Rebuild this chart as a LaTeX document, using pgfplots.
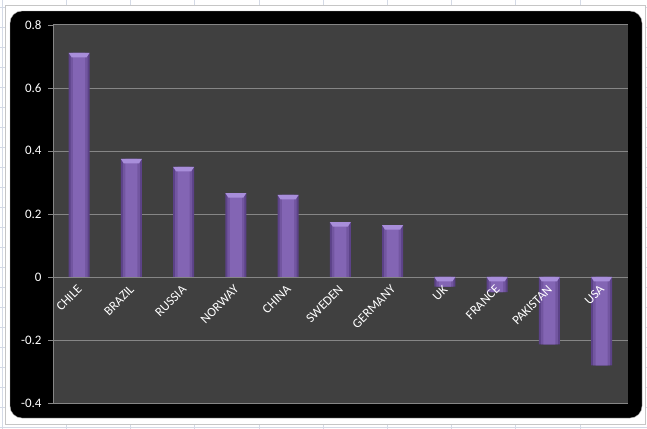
\documentclass[border=0pt]{standalone}
\usepackage{fontspec}
\setmainfont{Carlito}
\usepackage{pgfplots}
\pgfplotsset{compat=1.18}

\definecolor{plotbg}{RGB}{64,64,64}
\definecolor{gridgray}{RGB}{134,134,134}
\definecolor{bardark}{RGB}{92,66,136}
\definecolor{barsemi}{RGB}{114,86,160}
\definecolor{barmid}{RGB}{131,101,180}
\definecolor{barlight}{RGB}{168,142,218}
\definecolor{sheetline}{RGB}{212,218,230}

% light bevel on the end of each bar
\pgfdeclareplotmark{bevel}{%
  \pgfpathmoveto{\pgfpoint{-10.5bp}{0bp}}%
  \pgfpathlineto{\pgfpoint{10.5bp}{0bp}}%
  \pgfpathlineto{\pgfpoint{7.5bp}{-4.5bp}}%
  \pgfpathlineto{\pgfpoint{-7.5bp}{-4.5bp}}%
  \pgfpathclose
  \pgfusepath{fill}}

\pgfplotstableread{
x  v
0  0.711
1  0.374
2  0.349
3  0.266
4  0.260
5  0.174
6  0.164
7  -0.031
8  -0.048
9  -0.214
10 -0.281
}\gaps

\pgfplotsset{
  chartbox/.style={
    at={(53bp,-403bp)}, anchor=south west,
    scale only axis, width=574.7bp, height=378.3bp,
    xmin=-0.5, xmax=10.5, ymin=-0.4, ymax=0.8,
  },
  labfont/.style={text=white, font=\fontsize{13}{15}\selectfont},
}

\begin{document}
\begin{tikzpicture}
\useasboundingbox (0,0) rectangle (647bp,-429bp);
\fill[white] (0,0) rectangle (647bp,-429bp);
\foreach \i in {0,...,9} \draw[sheetline] ({(2+64.2*\i)*1bp},0) -- ++(0,-429bp);
\foreach \j in {0,...,21} \draw[sheetline] (0,{-(7+20*\j)*1bp}) -- ++(647bp,0);
\draw[gray!45, fill=white] (5bp,-5bp) rectangle (645bp,-424bp);
\fill[black, rounded corners=12bp] (10bp,-11bp) rectangle (642bp,-418bp);
\draw[gray!60, rounded corners=12bp] (10bp,-11bp) rectangle (642bp,-418bp);

\begin{axis}[
    chartbox,
    axis background/.style={fill=plotbg},
    axis x line=middle, axis y line=left,
    axis line style={draw=gridgray, -},
    ytick={-0.4,-0.2,0,0.2,0.4,0.6,0.8},
    yticklabels={-0.4,-0.2,0,0.2,0.4,0.6,0.8},
    ymajorgrids, grid style={draw=gridgray},
    ytick align=outside, major tick length=5bp,
    ytick style={draw=gridgray},
    yticklabel style={labfont, xshift=-3bp},
    xtick=\empty,
    minor xtick={-0.5,0.5,...,10.5},
    minor x tick style={draw=gridgray},
    minor tick length=5bp,
    xtick align=outside,
]
\addplot[ybar, bar width=21bp, bar shift=0pt, draw=none, fill=bardark] table[x=x, y=v] {\gaps};
\addplot[ybar, bar width=17bp, bar shift=0pt, draw=none, fill=barsemi] table[x=x, y=v] {\gaps};
\addplot[ybar, bar width=12bp, bar shift=0pt, draw=none, fill=barmid] table[x=x, y=v] {\gaps};
\addplot[only marks, mark=bevel, mark options={fill=barlight, draw=none}]
coordinates {(0,0.711) (1,0.374) (2,0.349) (3,0.266) (4,0.260) (5,0.174)
             (6,0.164) (7,0) (8,0) (9,0) (10,0)};
\end{axis}

% category names drawn over the bars
\begin{axis}[
    chartbox,
    axis x line=middle, hide y axis,
    axis line style={draw=none},
    xtick={0,...,10},
    xticklabels={CHILE,BRAZIL,RUSSIA,NORWAY,CHINA,SWEDEN,GERMANY,UK,FRANCE,PAKISTAN,USA},
    xtick style={draw=none},
    xticklabel style={xshift=3bp, yshift=-6bp, rotate=45, anchor=east, labfont},
]
\end{axis}
\end{tikzpicture}
\end{document}
